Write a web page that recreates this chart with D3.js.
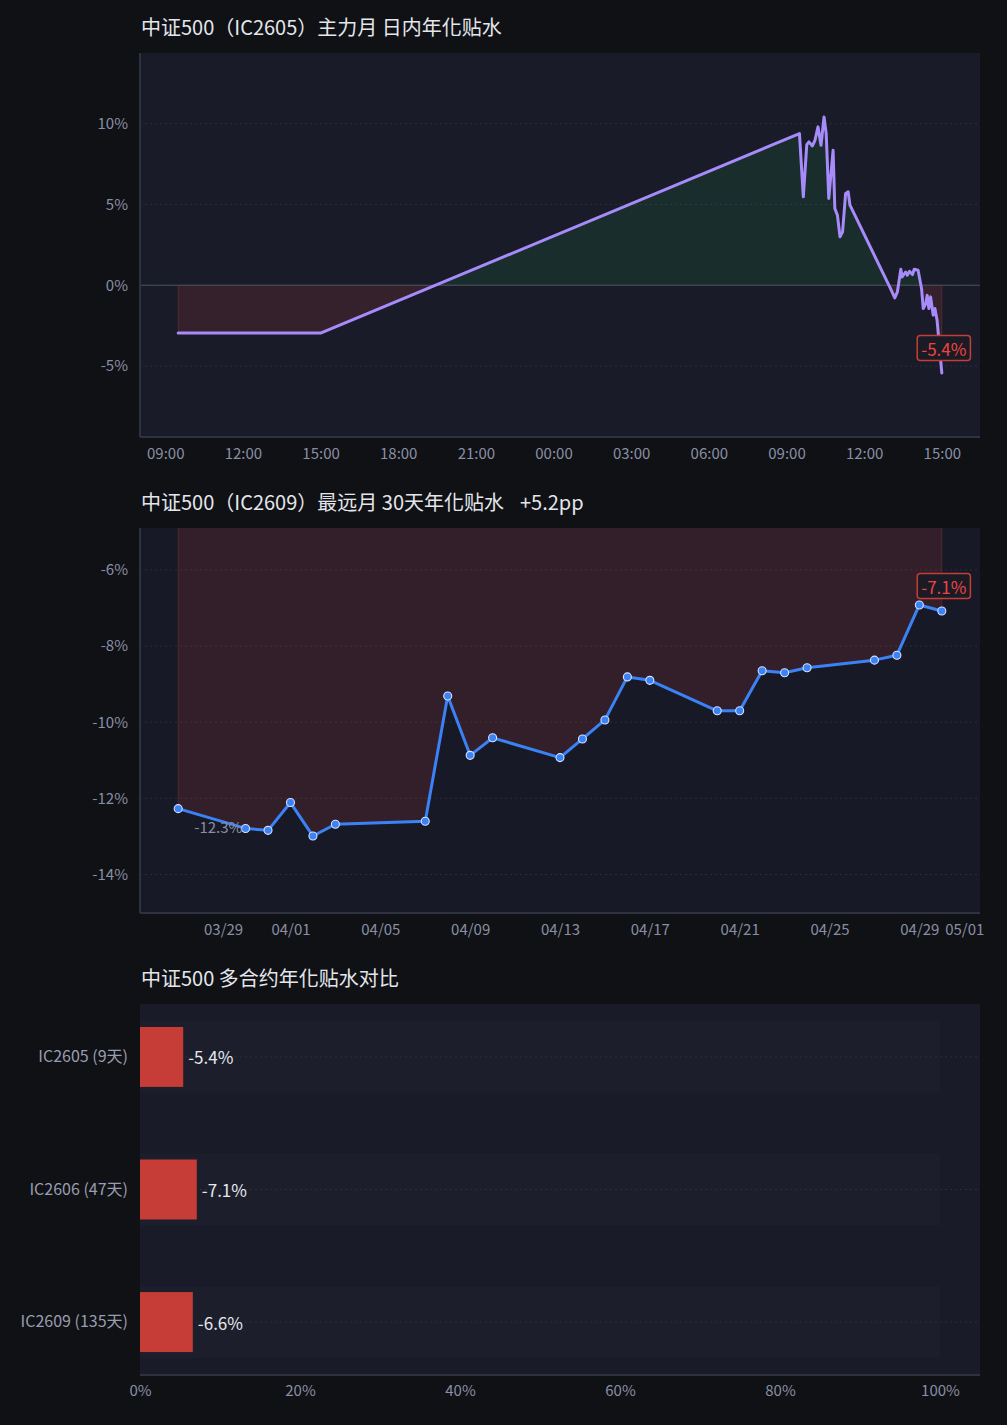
<!DOCTYPE html>
<html lang="zh-TW"><head><meta charset="utf-8">
<script src="https://cdn.jsdelivr.net/npm/d3@7/dist/d3.min.js"></script>
<style>
html,body{margin:0;padding:0;background:#0f1115;}
svg{display:block;font-family:"Noto Sans CJK SC","Noto Sans",sans-serif;}
.ttl{font-family:"Noto Sans CJK TC","Noto Sans CJK SC",sans-serif;}
</style></head><body>
<svg id="c" width="1007" height="1425"></svg>
<script>
// ---------------- DATA ----------------
const titles = ["中证500（IC2605）主力月 日内年化贴水", "中证500（IC2609）最远月 30天年化贴水", "中证500 多合约年化贴水对比"];
const spreadLabel = "+5.2pp";

const intradayTimes = [
  "2026-04-29 09:30","2026-04-29 15:00",
  "2026-04-30 09:30","2026-04-30 09:39","2026-04-30 09:47","2026-04-30 09:52","2026-04-30 10:00",
  "2026-04-30 10:06","2026-04-30 10:13","2026-04-30 10:20","2026-04-30 10:27","2026-04-30 10:32",
  "2026-04-30 10:38","2026-04-30 10:48","2026-04-30 10:52","2026-04-30 10:58","2026-04-30 11:04",
  "2026-04-30 11:10","2026-04-30 11:17","2026-04-30 11:23","2026-04-30 11:27","2026-04-30 11:30",
  "2026-04-30 13:00","2026-04-30 13:11","2026-04-30 13:17","2026-04-30 13:25","2026-04-30 13:28",
  "2026-04-30 13:36","2026-04-30 13:40","2026-04-30 13:45","2026-04-30 13:52","2026-04-30 13:56",
  "2026-04-30 14:05","2026-04-30 14:13","2026-04-30 14:17","2026-04-30 14:23","2026-04-30 14:26",
  "2026-04-30 14:30","2026-04-30 14:34","2026-04-30 14:40","2026-04-30 14:44","2026-04-30 14:49",
  "2026-04-30 15:00"];
const intradayValues = [
  -2.96,-2.96,
  9.38,5.47,8.70,8.87,8.62,
  8.97,9.80,8.66,10.41,9.38,
  5.37,8.35,4.75,4.34,3.00,
  3.31,5.68,5.78,4.96,4.80,
  -0.15,-0.78,-0.41,0.99,0.51,
  0.82,0.62,0.86,0.66,0.99,
  0.93,-0.20,-1.44,-1.13,-0.62,
  -1.44,-0.72,-1.85,-1.44,-2.16,
  -5.43];

const dailyDates = ["2026-03-27","2026-03-30","2026-03-31","2026-04-01","2026-04-02","2026-04-03",
  "2026-04-07","2026-04-08","2026-04-09","2026-04-10","2026-04-13","2026-04-14","2026-04-15",
  "2026-04-16","2026-04-17","2026-04-20","2026-04-21","2026-04-22","2026-04-23","2026-04-24",
  "2026-04-27","2026-04-28","2026-04-29","2026-04-30"];
const dailyValues = [-12.27,-12.79,-12.84,-12.11,-12.99,-12.68,
  -12.60,-9.31,-10.87,-10.41,-10.93,-10.44,-9.94,
  -8.81,-8.90,-9.70,-9.70,-8.65,-8.70,-8.57,
  -8.37,-8.24,-6.92,-7.08];

const contractLabels = ["IC2605 (9天)","IC2606 (47天)","IC2609 (135天)"];
const contractValues = [-5.4,-7.1,-6.6];
const barTicks = [0,20,40,60,80,100];

// ---------------- STYLE / LAYOUT ----------------
const L = 140, R = 980;
const C = {
  page:"#0f1115", plot:"#191c28", axis:"#2e3240", grid:"#2a2e3b",
  tick:"#8a8ea3", title:"#e4e6ec", red:"#ef4444", redBar:"#c53d36",
  purple:"#a78bfa", blue:"#3b82f6"
};
const svg = d3.select("#c");
svg.append("rect").attr("width",1007).attr("height",1425).attr("fill",C.page);
const defs = svg.append("defs");
const pFmt = v => v.toFixed(1) + "%";
const parseT = d3.timeParse("%Y-%m-%d %H:%M");
const parseD = d3.timeParse("%Y-%m-%d");

function title(text, y, extra){
  const t = svg.append("text").attr("class","ttl").attr("lang","zh-Hant").attr("x",141).attr("y",y).attr("fill",C.title)
    .attr("font-size",20).attr("dominant-baseline","middle").text(text);
  if(extra){ t.append("tspan").attr("dx",16).text(extra); }
}

function padNum(ext, k){ const a = +ext[0], b = +ext[1], r = b-a; return [a-r*k, b+r*k]; }

function styleAxis(ax, size, color){
  ax.attr("font-family",null).attr("font-size",null);
  ax.select(".domain").remove();
  ax.selectAll("text").attr("fill",color).attr("font-size",size);
}

function endLabel(g, x, y, text){
  const lg = g.append("g");
  const tx = lg.append("text").attr("x",x+2).attr("y",y-25).attr("text-anchor","middle")
    .attr("dominant-baseline","central").attr("fill",C.red).attr("font-size",17).text(text);
  const bb = tx.node().getBBox();
  lg.insert("rect","text").attr("x",bb.x-4).attr("y",y-25-12.5).attr("width",bb.width+8).attr("height",25)
    .attr("rx",3).attr("fill","#1a1b25").attr("stroke","#c53d36").attr("stroke-width",1.5);
}

function linePanel(id, top, bottom, xs, ys, yPadK, opts){
  const xd = padNum(d3.extent(xs), 0.05);
  const x = d3.scaleTime().domain([new Date(xd[0]), new Date(xd[1])]).range([L,R]);
  const y = d3.scaleLinear().domain(padNum(d3.extent(ys), yPadK)).range([bottom, top]);
  const g = svg.append("g");
  g.append("rect").attr("x",L).attr("y",top).attr("width",R-L).attr("height",bottom-top)
    .attr("fill", opts.bg || C.plot);
  g.append("g").selectAll("line").data(opts.yTicks).join("line")
    .attr("x1",L).attr("x2",R).attr("y1",d=>y(d)).attr("y2",d=>y(d))
    .attr("stroke",C.grid).attr("stroke-dasharray","2,3").attr("stroke-width",1);
  const y0 = Math.max(top, Math.min(bottom, y(0)));
  defs.append("clipPath").attr("id",id+"pos").append("rect")
    .attr("x",L).attr("y",top).attr("width",R-L).attr("height",y0-top);
  defs.append("clipPath").attr("id",id+"neg").append("rect")
    .attr("x",L).attr("y",y0).attr("width",R-L).attr("height",bottom-y0);
  const pts = xs.map((d,i)=>({x:d, v:ys[i]}));
  const area = d3.area().x(d=>x(d.x)).y0(y(0)).y1(d=>y(d.v));
  g.append("path").datum(pts).attr("d",area).attr("clip-path",`url(#${id}pos)`)
    .attr("fill","rgba(34,197,94,0.10)").attr("stroke","rgba(34,197,94,0.18)").attr("stroke-width",1);
  g.append("path").datum(pts).attr("d",area).attr("clip-path",`url(#${id}neg)`)
    .attr("fill","rgba(239,68,68,0.13)").attr("stroke","rgba(239,68,68,0.22)").attr("stroke-width",1);
  if(y(0) > top && y(0) < bottom){
    g.append("line").attr("x1",L).attr("x2",R).attr("y1",y(0)).attr("y2",y(0))
      .attr("stroke","#4a4f5e").attr("stroke-width",1);
  }
  g.append("line").attr("x1",L).attr("x2",L).attr("y1",top).attr("y2",bottom).attr("stroke",C.axis).attr("stroke-width",2);
  g.append("line").attr("x1",L).attr("x2",R).attr("y1",bottom).attr("y2",bottom).attr("stroke",C.axis).attr("stroke-width",2);
  const ya = g.append("g").attr("transform",`translate(${L},0)`)
    .call(d3.axisLeft(y).tickValues(opts.yTicks).tickSize(0).tickPadding(12).tickFormat(d=>d+"%"));
  styleAxis(ya, 15, C.tick);
  const xa = g.append("g").attr("transform",`translate(0,${bottom})`)
    .call(d3.axisBottom(x).tickValues(opts.xTicks(x.domain())).tickSize(0).tickPadding(11).tickFormat(d3.timeFormat(opts.xFmt)));
  styleAxis(xa, 15, C.tick);
  g.append("path").datum(pts).attr("d", d3.line().x(d=>x(d.x)).y(d=>y(d.v)))
    .attr("fill","none").attr("stroke",opts.color).attr("stroke-width",opts.lw)
    .attr("stroke-linejoin","round").attr("stroke-linecap","round");
  if(opts.dots){
    g.append("g").selectAll("circle").data(pts).join("circle")
      .attr("cx",d=>x(d.x)).attr("cy",d=>y(d.v)).attr("r",4)
      .attr("fill",opts.color).attr("stroke","#d6e2ff").attr("stroke-width",1.1);
  }
  if(opts.startLabel){
    const p = pts[0];
    g.append("text").attr("x",x(p.x)+16).attr("y",y(p.v)+18).attr("dominant-baseline","central")
      .attr("fill",C.tick).attr("font-size",15).text(pFmt(p.v));
  }
  const last = pts[pts.length-1];
  endLabel(g, x(last.x), y(last.v), pFmt(last.v));
}

// ---------- Panel 1 ----------
title(titles[0], 30);
linePanel("p1", 53, 437, intradayTimes.map(parseT), intradayValues, 0.25, {
  yTicks:[-5,0,5,10], xTicks: dom => d3.timeHour.every(3).range(dom[0], dom[1]),
  xFmt:"%H:%M", color:C.purple, lw:3, dots:false, startLabel:false
});

// ---------- Panel 2 ----------
title(titles[1], 505, spreadLabel);
linePanel("p2", 528, 913, dailyDates.map(parseD), dailyValues, 0.333, {
  yTicks:[-14,-12,-10,-8,-6], xTicks: dom => d3.timeDay.every(4).range(dom[0], dom[1]),
  xFmt:"%m/%d", color:C.blue, lw:3, dots:true, startLabel:true, bg:"#171a26"
});

// ---------- Panel 3 ----------
title(titles[2], 981);
(function(){
  const top = 1004, bottom = 1375;
  const x = d3.scaleLinear().domain([0,105]).range([L,R]);
  const yb = d3.scaleBand().domain(contractLabels).range([top,bottom]).paddingInner(0.457).paddingOuter(0.128);
  const g = svg.append("g");
  g.append("rect").attr("x",L).attr("y",top).attr("width",R-L).attr("height",bottom-top).attr("fill",C.plot);
  g.append("g").selectAll("rect").data(contractLabels).join("rect")
    .attr("x",x(0)).attr("width",x(100)-x(0)).attr("y",d=>yb(d)).attr("height",yb.bandwidth())
    .attr("fill","#1c1f2b");
  g.append("g").selectAll("line").data(contractLabels).join("line")
    .attr("x1",L).attr("x2",R).attr("y1",d=>yb(d)+yb.bandwidth()/2).attr("y2",d=>yb(d)+yb.bandwidth()/2)
    .attr("stroke",C.grid).attr("stroke-dasharray","2,3");
  g.append("g").selectAll("rect").data(contractValues).join("rect")
    .attr("x",x(0)).attr("width",d=>x(Math.abs(d))-x(0))
    .attr("y",(d,i)=>yb(contractLabels[i])+6).attr("height",yb.bandwidth()-12)
    .attr("fill",C.redBar);
  g.append("g").selectAll("text").data(contractValues).join("text")
    .attr("x",d=>x(Math.abs(d))+5).attr("y",(d,i)=>yb(contractLabels[i])+yb.bandwidth()/2)
    .attr("dominant-baseline","central").attr("fill","#e6e8ee").attr("font-size",17).text(d=>pFmt(d));
  g.append("line").attr("x1",L).attr("x2",R).attr("y1",bottom).attr("y2",bottom).attr("stroke",C.axis).attr("stroke-width",2);
  const ya = g.append("g").attr("transform",`translate(${L},0)`).call(d3.axisLeft(yb).tickSize(0).tickPadding(12));
  styleAxis(ya, 16, "#9a9db0");
  const xa = g.append("g").attr("transform",`translate(0,${bottom})`)
    .call(d3.axisBottom(x).tickValues(barTicks).tickSize(0).tickPadding(10).tickFormat(d=>d+"%"));
  styleAxis(xa, 15, C.tick);
})();
</script>
</body></html>
